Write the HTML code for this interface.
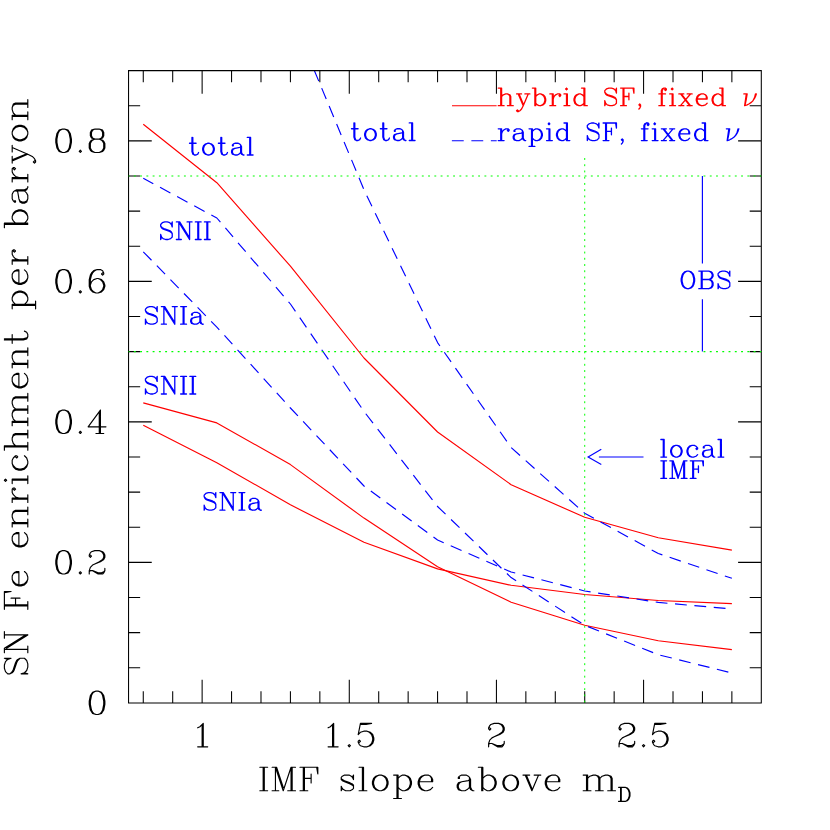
<!DOCTYPE html>
<html><head><meta charset="utf-8"><title>SN Fe enrichment</title>
<style>html,body{margin:0;padding:0;background:#fff;font-family:"Liberation Sans",sans-serif}svg{display:block}</style></head>
<body>
<svg width="830" height="830" viewBox="0 0 830 830">
<rect width="830" height="830" fill="#fff"/>
<defs><clipPath id="c"><rect x="128.55" y="70.6" width="632.75" height="632.3"/></clipPath></defs>
<g fill="none" stroke-width="1.15" stroke-linejoin="round" clip-path="url(#c)">
<g stroke="#ff0000">
<path d="M143.27 124.3L216.84 182.7L290.42 266.2L363.99 358L437.57 432L511.14 484.7L584.72 517.3L658.29 537.8L731.87 550.1"/>
<path d="M143.27 402.9L216.84 422.9L290.42 464.6L363.99 518.1L437.57 566.8L511.14 602.2L584.72 625.3L658.29 640.7L731.87 649.6"/>
<path d="M143.27 425.3L216.84 462.7L290.42 504.8L363.99 542.2L437.57 568.9L511.14 585.3L584.72 594.5L658.29 600.5L731.87 603.6"/>
</g>
<g stroke="#0000ff" stroke-dasharray="11.8 7.63">
<path d="M143.27 178.3L216.84 218L290.42 304L363.99 411.4L437.57 506.5L511.14 577.6L584.72 625.3L658.29 654.7L731.87 673" stroke-dashoffset="0.4"/>
<path d="M143.27 251.8L216.84 327.1L290.42 408L363.99 486L437.57 540L511.14 572L584.72 591L658.29 602.4L731.87 609" stroke-dashoffset="0"/>
<path d="M143.27 -273L216.84 -160L290.42 13L363.99 189.8L437.57 342.6L511.14 447.6L584.72 513.3L658.29 553.5L731.87 578.3" stroke-dashoffset="3.8"/>
</g></g>
<path d="M128.55 70.6H761.3V702.9H128.55ZM143.27 702.9v-11.6M143.27 70.6v11.6M172.7 702.9v-11.6M172.7 70.6v11.6M202.13 702.9v-23.2M202.13 70.6v23.2M231.56 702.9v-11.6M231.56 70.6v11.6M260.99 702.9v-11.6M260.99 70.6v11.6M290.42 702.9v-11.6M290.42 70.6v11.6M319.85 702.9v-11.6M319.85 70.6v11.6M349.28 702.9v-23.2M349.28 70.6v23.2M378.71 702.9v-11.6M378.71 70.6v11.6M408.14 702.9v-11.6M408.14 70.6v11.6M437.57 702.9v-11.6M437.57 70.6v11.6M467 702.9v-11.6M467 70.6v11.6M496.43 702.9v-23.2M496.43 70.6v23.2M525.86 702.9v-11.6M525.86 70.6v11.6M555.29 702.9v-11.6M555.29 70.6v11.6M584.72 702.9v-11.6M584.72 70.6v11.6M614.15 702.9v-11.6M614.15 70.6v11.6M643.58 702.9v-23.2M643.58 70.6v23.2M673.01 702.9v-11.6M673.01 70.6v11.6M702.44 702.9v-11.6M702.44 70.6v11.6M731.87 702.9v-11.6M731.87 70.6v11.6M761.3 702.9v-11.6M761.3 70.6v11.6M128.55 667.77h11.6M761.3 667.77h-11.6M128.55 632.64h11.6M761.3 632.64h-11.6M128.55 597.52h11.6M761.3 597.52h-11.6M128.55 562.39h23.2M761.3 562.39h-23.2M128.55 527.26h11.6M761.3 527.26h-11.6M128.55 492.13h11.6M761.3 492.13h-11.6M128.55 457.01h11.6M761.3 457.01h-11.6M128.55 421.88h23.2M761.3 421.88h-23.2M128.55 386.75h11.6M761.3 386.75h-11.6M128.55 351.62h11.6M761.3 351.62h-11.6M128.55 316.49h11.6M761.3 316.49h-11.6M128.55 281.37h23.2M761.3 281.37h-23.2M128.55 246.24h11.6M761.3 246.24h-11.6M128.55 211.11h11.6M761.3 211.11h-11.6M128.55 175.98h11.6M761.3 175.98h-11.6M128.55 140.86h23.2M761.3 140.86h-23.2M128.55 105.73h11.6M761.3 105.73h-11.6" fill="none" stroke="#000" stroke-width="1.05" stroke-linecap="butt" stroke-linejoin="miter"/>
<g stroke="#00ff00" stroke-width="1.15" fill="none" stroke-linecap="butt">
<path d="M128.55 175.98H761.3" stroke-dasharray="1.9 4.36" stroke-dashoffset="0.95"/>
<path d="M128.55 351.62H761.3" stroke-dasharray="1.9 4.36" stroke-dashoffset="0.95"/>
<path d="M584.72 158.03V702.9" stroke-dasharray="1.9 4.337" stroke-width="1.0"/>
</g>
<path d="M62.48 129.05L59.14 130.16L56.91 133.51L55.8 139.08L55.8 142.43L56.91 148L59.14 151.35L62.48 152.46L64.72 152.46L68.06 151.35L70.29 148L71.41 142.43L71.41 139.08L70.29 133.51L68.06 130.16L64.72 129.05L62.48 129.05M62.48 129.05L60.26 130.16L59.14 131.28L58.03 133.51L56.91 139.08L56.91 142.43L58.03 148L59.14 150.23L60.26 151.35L62.48 152.46M64.72 152.46L66.95 151.35L68.06 150.23L69.18 148L70.29 142.43L70.29 139.08L69.18 133.51L68.06 131.28L66.95 130.16L64.72 129.05M80.33 150.23L79.21 151.35L80.33 152.46L81.44 151.35L80.33 150.23M94.82 129.05L91.47 130.16L90.36 132.39L90.36 135.74L91.47 137.97L94.82 139.08L99.28 139.08L102.62 137.97L103.74 135.74L103.74 132.39L102.62 130.16L99.28 129.05L94.82 129.05M94.82 129.05L92.59 130.16L91.47 132.39L91.47 135.74L92.59 137.97L94.82 139.08M99.28 139.08L101.51 137.97L102.62 135.74L102.62 132.39L101.51 130.16L99.28 129.05M94.82 139.08L91.47 140.2L90.36 141.31L89.25 143.54L89.25 148L90.36 150.23L91.47 151.35L94.82 152.46L99.28 152.46L102.62 151.35L103.74 150.23L104.86 148L104.86 143.54L103.74 141.31L102.62 140.2L99.28 139.08M94.82 139.08L92.59 140.2L91.47 141.31L90.36 143.54L90.36 148L91.47 150.23L92.59 151.35L94.82 152.46M99.28 152.46L101.51 151.35L102.62 150.23L103.74 148L103.74 143.54L102.62 141.31L101.51 140.2L99.28 139.08M62.48 269.56L59.14 270.67L56.91 274.02L55.8 279.59L55.8 282.94L56.91 288.51L59.14 291.86L62.48 292.97L64.72 292.97L68.06 291.86L70.29 288.51L71.41 282.94L71.41 279.59L70.29 274.02L68.06 270.67L64.72 269.56L62.48 269.56M62.48 269.56L60.26 270.67L59.14 271.79L58.03 274.02L56.91 279.59L56.91 282.94L58.03 288.51L59.14 290.74L60.26 291.86L62.48 292.97M64.72 292.97L66.95 291.86L68.06 290.74L69.18 288.51L70.29 282.94L70.29 279.59L69.18 274.02L68.06 271.79L66.95 270.67L64.72 269.56M80.33 290.74L79.21 291.86L80.33 292.97L81.44 291.86L80.33 290.74M102.62 272.9L101.51 274.02L102.62 275.13L103.74 274.02L103.74 272.9L102.62 270.67L100.4 269.56L97.05 269.56L93.71 270.67L91.47 272.9L90.36 275.13L89.25 279.59L89.25 286.28L90.36 289.63L92.59 291.86L95.94 292.97L98.16 292.97L101.51 291.86L103.74 289.63L104.86 286.28L104.86 285.17L103.74 281.82L101.51 279.59L98.16 278.48L97.05 278.48L93.71 279.59L91.47 281.82L90.36 285.17M97.05 269.56L94.82 270.67L92.59 272.9L91.47 275.13L90.36 279.59L90.36 286.28L91.47 289.63L93.71 291.86L95.94 292.97M98.16 292.97L100.4 291.86L102.62 289.63L103.74 286.28L103.74 285.17L102.62 281.82L100.4 279.59L98.16 278.48M62.48 410.07L59.14 411.19L56.91 414.53L55.8 420.11L55.8 423.45L56.91 429.03L59.14 432.37L62.48 433.49L64.72 433.49L68.06 432.37L70.29 429.03L71.41 423.45L71.41 420.11L70.29 414.53L68.06 411.19L64.72 410.07L62.48 410.07M62.48 410.07L60.26 411.19L59.14 412.3L58.03 414.53L56.91 420.11L56.91 423.45L58.03 429.03L59.14 431.26L60.26 432.37L62.48 433.49M64.72 433.49L66.95 432.37L68.06 431.26L69.18 429.03L70.29 423.45L70.29 420.11L69.18 414.53L68.06 412.3L66.95 411.19L64.72 410.07M80.33 431.26L79.21 432.37L80.33 433.49L81.44 432.37L80.33 431.26M99.28 412.3L99.28 433.49M100.4 410.07L100.4 433.49M100.4 410.07L88.13 426.8L105.97 426.8M95.94 433.49L103.74 433.49M62.48 550.58L59.14 551.7L56.91 555.04L55.8 560.62L55.8 563.96L56.91 569.54L59.14 572.88L62.48 574L64.72 574L68.06 572.88L70.29 569.54L71.41 563.96L71.41 560.62L70.29 555.04L68.06 551.7L64.72 550.58L62.48 550.58M62.48 550.58L60.26 551.7L59.14 552.81L58.03 555.04L56.91 560.62L56.91 563.96L58.03 569.54L59.14 571.77L60.26 572.88L62.48 574M64.72 574L66.95 572.88L68.06 571.77L69.18 569.54L70.29 563.96L70.29 560.62L69.18 555.04L68.06 552.81L66.95 551.7L64.72 550.58M80.33 571.77L79.21 572.88L80.33 574L81.44 572.88L80.33 571.77M90.36 555.04L91.47 556.16L90.36 557.27L89.25 556.16L89.25 555.04L90.36 552.81L91.47 551.7L94.82 550.58L99.28 550.58L102.62 551.7L103.74 552.81L104.86 555.04L104.86 557.27L103.74 559.5L100.4 561.73L94.82 563.96L92.59 565.08L90.36 567.31L89.25 570.65L89.25 574M99.28 550.58L101.51 551.7L102.62 552.81L103.74 555.04L103.74 557.27L102.62 559.5L99.28 561.73L94.82 563.96M89.25 571.77L90.36 570.65L92.59 570.65L98.16 572.88L101.51 572.88L103.74 571.77L104.86 570.65M92.59 570.65L98.16 574L102.62 574L103.74 572.88L104.86 570.65L104.86 568.42M95.94 691.09L92.59 692.21L90.36 695.55L89.25 701.13L89.25 704.47L90.36 710.05L92.59 713.39L95.94 714.51L98.17 714.51L101.51 713.39L103.74 710.05L104.86 704.47L104.86 701.13L103.74 695.55L101.51 692.21L98.17 691.09L95.94 691.09M95.94 691.09L93.71 692.21L92.59 693.32L91.48 695.55L90.36 701.13L90.36 704.47L91.48 710.05L92.59 712.28L93.71 713.39L95.94 714.51M98.17 714.51L100.4 713.39L101.51 712.28L102.62 710.05L103.74 704.47L103.74 701.13L102.62 695.55L101.51 693.32L100.4 692.21L98.17 691.09M197.67 727.84L199.9 726.73L203.24 723.38L203.24 746.8M202.13 724.5L202.13 746.8M197.67 746.8L207.7 746.8M328.09 727.84L330.32 726.73L333.67 723.38L333.67 746.8M332.55 724.5L332.55 746.8M328.09 746.8L338.13 746.8M349.28 744.57L348.16 745.68L349.28 746.8L350.39 745.68L349.28 744.57M360.43 723.38L358.2 734.53M358.2 734.53L360.43 732.3L363.77 731.19L367.12 731.19L370.46 732.3L372.69 734.53L373.81 737.88L373.81 740.11L372.69 743.45L370.46 745.68L367.12 746.8L363.77 746.8L360.43 745.68L359.31 744.57L358.2 742.34L358.2 741.22L359.31 740.11L360.43 741.22L359.31 742.34M367.12 731.19L369.35 732.3L371.58 734.53L372.69 737.88L372.69 740.11L371.58 743.45L369.35 745.68L367.12 746.8M360.43 723.38L371.58 723.38M360.43 724.5L366 724.5L371.58 723.38M489.74 727.84L490.85 728.96L489.74 730.07L488.62 728.96L488.62 727.84L489.74 725.62L490.85 724.5L494.2 723.38L498.66 723.38L502 724.5L503.12 725.62L504.23 727.84L504.23 730.07L503.12 732.3L499.77 734.53L494.2 736.76L491.97 737.88L489.74 740.11L488.62 743.45L488.62 746.8M498.66 723.38L500.89 724.5L502 725.62L503.12 727.84L503.12 730.07L502 732.3L498.66 734.53L494.2 736.76M488.62 744.57L489.74 743.45L491.97 743.45L497.54 745.68L500.89 745.68L503.12 744.57L504.23 743.45M491.97 743.45L497.54 746.8L502 746.8L503.12 745.68L504.23 743.45L504.23 741.22M620.16 727.84L621.28 728.96L620.16 730.07L619.05 728.96L619.05 727.84L620.16 725.62L621.28 724.5L624.62 723.38L629.08 723.38L632.43 724.5L633.54 725.62L634.66 727.84L634.66 730.07L633.54 732.3L630.2 734.53L624.62 736.76L622.39 737.88L620.16 740.11L619.05 743.45L619.05 746.8M629.08 723.38L631.31 724.5L632.43 725.62L633.54 727.84L633.54 730.07L632.43 732.3L629.08 734.53L624.62 736.76M619.05 744.57L620.16 743.45L622.39 743.45L627.97 745.68L631.31 745.68L633.54 744.57L634.66 743.45M622.39 743.45L627.97 746.8L632.43 746.8L633.54 745.68L634.66 743.45L634.66 741.22M643.58 744.57L642.46 745.68L643.58 746.8L644.69 745.68L643.58 744.57M654.73 723.38L652.5 734.53M652.5 734.53L654.73 732.3L658.07 731.19L661.42 731.19L664.76 732.3L666.99 734.53L668.11 737.88L668.11 740.11L666.99 743.45L664.76 745.68L661.42 746.8L658.07 746.8L654.73 745.68L653.61 744.57L652.5 742.34L652.5 741.22L653.61 740.11L654.73 741.22L653.61 742.34M661.42 731.19L663.65 732.3L665.88 734.53L666.99 737.88L666.99 740.11L665.88 743.45L663.65 745.68L661.42 746.8M654.73 723.38L665.88 723.38M654.73 724.5L660.3 724.5L665.88 723.38M263.18 767.29L263.18 790.7M264.29 767.29L264.29 790.7M259.83 767.29L267.64 767.29M259.83 790.7L267.64 790.7M275.44 767.29L275.44 790.7M276.56 767.29L283.25 787.36M275.44 767.29L283.25 790.7M291.05 767.29L283.25 790.7M291.05 767.29L291.05 790.7M292.17 767.29L292.17 790.7M272.1 767.29L276.56 767.29M291.05 767.29L295.51 767.29M272.1 790.7L278.79 790.7M287.71 790.7L295.51 790.7M303.31 767.29L303.31 790.7M304.43 767.29L304.43 790.7M311.12 773.98L311.12 782.9M299.97 767.29L317.81 767.29L317.81 773.98L316.7 767.29M304.43 778.44L311.12 778.44M299.97 790.7L307.78 790.7M352.38 777.32L353.49 775.09L353.49 779.55L352.38 777.32L351.26 776.21L349.03 775.09L344.57 775.09L342.34 776.21L341.23 777.32L341.23 779.55L342.34 780.67L344.57 781.78L350.15 784.01L352.38 785.12L353.49 786.24M341.23 778.44L342.34 779.55L344.57 780.67L350.15 782.9L352.38 784.01L353.49 785.12L353.49 788.47L352.38 789.59L350.15 790.7L345.69 790.7L343.46 789.59L342.34 788.47L341.23 786.24L341.23 790.7L342.34 788.47M362.41 767.29L362.41 790.7M363.53 767.29L363.53 790.7M359.07 767.29L363.53 767.29M359.07 790.7L366.87 790.7M379.13 775.09L375.79 776.21L373.56 778.44L372.45 781.78L372.45 784.01L373.56 787.36L375.79 789.59L379.13 790.7L381.37 790.7L384.71 789.59L386.94 787.36L388.06 784.01L388.06 781.78L386.94 778.44L384.71 776.21L381.37 775.09L379.13 775.09M379.13 775.09L376.91 776.21L374.68 778.44L373.56 781.78L373.56 784.01L374.68 787.36L376.91 789.59L379.13 790.7M381.37 790.7L383.6 789.59L385.83 787.36L386.94 784.01L386.94 781.78L385.83 778.44L383.6 776.21L381.37 775.09M396.98 775.09L396.98 798.5M398.09 775.09L398.09 798.5M398.09 778.44L400.32 776.21L402.55 775.09L404.78 775.09L408.12 776.21L410.36 778.44L411.47 781.78L411.47 784.01L410.36 787.36L408.12 789.59L404.78 790.7L402.55 790.7L400.32 789.59L398.09 787.36M404.78 775.09L407.01 776.21L409.24 778.44L410.36 781.78L410.36 784.01L409.24 787.36L407.01 789.59L404.78 790.7M393.63 775.09L398.09 775.09M393.63 798.5L401.44 798.5M419.28 781.78L432.66 781.78L432.66 779.55L431.54 777.32L430.43 776.21L428.2 775.09L424.85 775.09L421.5 776.21L419.28 778.44L418.16 781.78L418.16 784.01L419.28 787.36L421.5 789.59L424.85 790.7L427.08 790.7L430.43 789.59L432.66 787.36M431.54 781.78L431.54 778.44L430.43 776.21M424.85 775.09L422.62 776.21L420.39 778.44L419.28 781.78L419.28 784.01L420.39 787.36L422.62 789.59L424.85 790.7M459.42 777.32L459.42 778.44L458.3 778.44L458.3 777.32L459.42 776.21L461.64 775.09L466.11 775.09L468.34 776.21L469.45 777.32L470.57 779.55L470.57 787.36L471.68 789.59L472.8 790.7M469.45 777.32L469.45 787.36L470.57 789.59L472.8 790.7L473.91 790.7M469.45 779.55L468.34 780.67L461.64 781.78L458.3 782.9L457.19 785.12L457.19 787.36L458.3 789.59L461.64 790.7L464.99 790.7L467.22 789.59L469.45 787.36M461.64 781.78L459.42 782.9L458.3 785.12L458.3 787.36L459.42 789.59L461.64 790.7M481.72 767.29L481.72 790.7M482.83 767.29L482.83 790.7M482.83 778.44L485.06 776.21L487.29 775.09L489.52 775.09L492.87 776.21L495.1 778.44L496.21 781.78L496.21 784.01L495.1 787.36L492.87 789.59L489.52 790.7L487.29 790.7L485.06 789.59L482.83 787.36M489.52 775.09L491.75 776.21L493.98 778.44L495.1 781.78L495.1 784.01L493.98 787.36L491.75 789.59L489.52 790.7M478.37 767.29L482.83 767.29M509.59 775.09L506.25 776.21L504.01 778.44L502.9 781.78L502.9 784.01L504.01 787.36L506.25 789.59L509.59 790.7L511.82 790.7L515.16 789.59L517.39 787.36L518.51 784.01L518.51 781.78L517.39 778.44L515.16 776.21L511.82 775.09L509.59 775.09M509.59 775.09L507.36 776.21L505.13 778.44L504.01 781.78L504.01 784.01L505.13 787.36L507.36 789.59L509.59 790.7M511.82 790.7L514.05 789.59L516.28 787.36L517.39 784.01L517.39 781.78L516.28 778.44L514.05 776.21L511.82 775.09M525.2 775.09L531.89 790.7M526.32 775.09L531.89 788.47M538.58 775.09L531.89 790.7M522.97 775.09L529.66 775.09M534.12 775.09L540.81 775.09M546.38 781.78L559.77 781.78L559.77 779.55L558.65 777.32L557.54 776.21L555.31 775.09L551.96 775.09L548.62 776.21L546.38 778.44L545.27 781.78L545.27 784.01L546.38 787.36L548.62 789.59L551.96 790.7L554.19 790.7L557.54 789.59L559.77 787.36M558.65 781.78L558.65 778.44L557.54 776.21M551.96 775.09L549.73 776.21L547.5 778.44L546.38 781.78L546.38 784.01L547.5 787.36L549.73 789.59L551.96 790.7M586.53 775.09L586.53 790.7M587.64 775.09L587.64 790.7M587.64 778.44L589.87 776.21L593.22 775.09L595.44 775.09L598.79 776.21L599.9 778.44L599.9 790.7M595.44 775.09L597.67 776.21L598.79 778.44L598.79 790.7M599.9 778.44L602.13 776.21L605.48 775.09L607.71 775.09L611.06 776.21L612.17 778.44L612.17 790.7M607.71 775.09L609.94 776.21L611.06 778.44L611.06 790.7M583.18 775.09L587.64 775.09M583.18 790.7L590.99 790.7M595.44 790.7L603.25 790.7M607.71 790.7L615.52 790.7M620.59 787.35L620.59 801.4M621.26 787.35L621.26 801.4M618.58 787.35L625.27 787.35L627.28 788.02L628.62 789.36L629.29 790.7L629.96 792.7L629.96 796.05L629.29 798.06L628.62 799.39L627.28 800.73L625.27 801.4L618.58 801.4M625.27 787.35L626.61 788.02L627.95 789.36L628.62 790.7L629.29 792.7L629.29 796.05L628.62 798.06L627.95 799.39L626.61 800.73L625.27 801.4M7.73 659.4L4.39 658.28L11.07 658.28L7.73 659.4L5.5 661.62L4.39 664.96L4.39 668.3L5.5 671.64L7.73 673.86L9.96 673.86L12.19 672.75L13.31 671.64L14.42 669.41L16.65 662.73L17.77 660.51L20 658.28M9.96 673.86L12.19 671.64L13.31 669.41L15.54 662.73L16.65 660.51L17.77 659.4L20 658.28L24.46 658.28L26.69 660.51L27.8 663.85L27.8 667.19L26.69 670.52L24.46 672.75L21.11 673.86L27.8 673.86L24.46 672.75M4.39 649.38L27.8 649.38M4.39 648.27L25.57 634.91M6.62 648.27L27.8 634.91M4.39 634.91L27.8 634.91M4.39 652.72L4.39 648.27M4.39 638.25L4.39 631.58M27.8 652.72L27.8 646.04M4.39 605.98L27.8 605.98M4.39 604.87L27.8 604.87M11.07 598.19L20 598.19M4.39 609.32L4.39 591.52L11.07 591.52L4.39 592.63M15.54 604.87L15.54 598.19M27.8 609.32L27.8 601.53M18.88 584.84L18.88 571.49L16.65 571.49L14.42 572.6L13.31 573.71L12.19 575.94L12.19 579.28L13.31 582.61L15.54 584.84L18.88 585.95L21.11 585.95L24.46 584.84L26.69 582.61L27.8 579.28L27.8 577.05L26.69 573.71L24.46 571.49M18.88 572.6L15.54 572.6L13.31 573.71M12.19 579.28L13.31 581.5L15.54 583.73L18.88 584.84L21.11 584.84L24.46 583.73L26.69 581.5L27.8 579.28M18.88 545.89L18.88 532.54L16.65 532.54L14.42 533.65L13.31 534.77L12.19 536.99L12.19 540.33L13.31 543.67L15.54 545.89L18.88 547.01L21.11 547.01L24.46 545.89L26.69 543.67L27.8 540.33L27.8 538.1L26.69 534.77L24.46 532.54M18.88 533.65L15.54 533.65L13.31 534.77M12.19 540.33L13.31 542.55L15.54 544.78L18.88 545.89L21.11 545.89L24.46 544.78L26.69 542.55L27.8 540.33M12.19 523.64L27.8 523.64M12.19 522.52L27.8 522.52M15.54 522.52L13.31 520.3L12.19 516.96L12.19 514.74L13.31 511.4L15.54 510.28L27.8 510.28M12.19 514.74L13.31 512.51L15.54 511.4L27.8 511.4M12.19 526.98L12.19 522.52M27.8 526.98L27.8 519.19M27.8 514.74L27.8 506.95M12.19 499.16L27.8 499.16M12.19 498.04L27.8 498.04M18.88 498.04L15.54 496.93L13.31 494.71L12.19 492.48L12.19 489.14L13.31 488.03L14.42 488.03L15.54 489.14L14.42 490.25L13.31 489.14M12.19 502.5L12.19 498.04M27.8 502.5L27.8 494.71M4.39 480.24L5.5 481.35L6.62 480.24L5.5 479.13L4.39 480.24M12.19 480.24L27.8 480.24M12.19 479.13L27.8 479.13M12.19 483.58L12.19 479.13M27.8 483.58L27.8 475.79M15.54 456.87L16.65 457.98L17.77 456.87L16.65 455.76L15.54 455.76L13.31 457.98L12.19 460.21L12.19 463.55L13.31 466.89L15.54 469.11L18.88 470.22L21.11 470.22L24.46 469.11L26.69 466.89L27.8 463.55L27.8 461.32L26.69 457.98L24.46 455.76M12.19 463.55L13.31 465.77L15.54 468L18.88 469.11L21.11 469.11L24.46 468L26.69 465.77L27.8 463.55M4.39 446.86L27.8 446.86M4.39 445.74L27.8 445.74M15.54 445.74L13.31 443.52L12.19 440.18L12.19 437.95L13.31 434.62L15.54 433.5L27.8 433.5M12.19 437.95L13.31 435.73L15.54 434.62L27.8 434.62M4.39 450.19L4.39 445.74M27.8 450.19L27.8 442.41M27.8 437.95L27.8 430.17M12.19 422.38L27.8 422.38M12.19 421.26L27.8 421.26M15.54 421.26L13.31 419.04L12.19 415.7L12.19 413.47L13.31 410.14L15.54 409.02L27.8 409.02M12.19 413.47L13.31 411.25L15.54 410.14L27.8 410.14M15.54 409.02L13.31 406.8L12.19 403.46L12.19 401.23L13.31 397.89L15.54 396.78L27.8 396.78M12.19 401.23L13.31 399.01L15.54 397.89L27.8 397.89M12.19 425.71L12.19 421.26M27.8 425.71L27.8 417.92M27.8 413.47L27.8 405.68M27.8 401.23L27.8 393.44M18.88 386.77L18.88 373.41L16.65 373.41L14.42 374.53L13.31 375.64L12.19 377.86L12.19 381.2L13.31 384.54L15.54 386.77L18.88 387.88L21.11 387.88L24.46 386.77L26.69 384.54L27.8 381.2L27.8 378.98L26.69 375.64L24.46 373.41M18.88 374.53L15.54 374.53L13.31 375.64M12.19 381.2L13.31 383.43L15.54 385.65L18.88 386.77L21.11 386.77L24.46 385.65L26.69 383.43L27.8 381.2M12.19 364.51L27.8 364.51M12.19 363.4L27.8 363.4M15.54 363.4L13.31 361.17L12.19 357.84L12.19 355.61L13.31 352.27L15.54 351.16L27.8 351.16M12.19 355.61L13.31 353.38L15.54 352.27L27.8 352.27M12.19 367.85L12.19 363.4M27.8 367.85L27.8 360.06M27.8 355.61L27.8 347.82M4.39 340.03L23.34 340.03L26.69 338.92L27.8 336.69L27.8 334.47L26.69 332.24L24.46 331.13M4.39 338.92L23.34 338.92L26.69 337.81L27.8 336.69M12.19 343.37L12.19 334.47M12.19 305.53L35.61 305.53M12.19 304.42L35.61 304.42M15.54 304.42L13.31 302.2L12.19 299.97L12.19 297.75L13.31 294.41L15.54 292.18L18.88 291.07L21.11 291.07L24.46 292.18L26.69 294.41L27.8 297.75L27.8 299.97L26.69 302.2L24.46 304.42M12.19 297.75L13.31 295.52L15.54 293.29L18.88 292.18L21.11 292.18L24.46 293.29L26.69 295.52L27.8 297.75M12.19 308.87L12.19 304.42M35.61 308.87L35.61 301.08M18.88 283.28L18.88 269.93L16.65 269.93L14.42 271.04L13.31 272.15L12.19 274.38L12.19 277.72L13.31 281.05L15.54 283.28L18.88 284.39L21.11 284.39L24.46 283.28L26.69 281.05L27.8 277.72L27.8 275.49L26.69 272.15L24.46 269.93M18.88 271.04L15.54 271.04L13.31 272.15M12.19 277.72L13.31 279.94L15.54 282.17L18.88 283.28L21.11 283.28L24.46 282.17L26.69 279.94L27.8 277.72M12.19 261.02L27.8 261.02M12.19 259.91L27.8 259.91M18.88 259.91L15.54 258.8L13.31 256.57L12.19 254.35L12.19 251.01L13.31 249.9L14.42 249.9L15.54 251.01L14.42 252.12L13.31 251.01M12.19 264.36L12.19 259.91M27.8 264.36L27.8 256.57M4.39 224.3L27.8 224.3M4.39 223.19L27.8 223.19M15.54 223.19L13.31 220.96L12.19 218.74L12.19 216.51L13.31 213.17L15.54 210.95L18.88 209.84L21.11 209.84L24.46 210.95L26.69 213.17L27.8 216.51L27.8 218.74L26.69 220.96L24.46 223.19M12.19 216.51L13.31 214.29L15.54 212.06L18.88 210.95L21.11 210.95L24.46 212.06L26.69 214.29L27.8 216.51M4.39 227.64L4.39 223.19M14.42 200.93L15.54 200.93L15.54 202.05L14.42 202.05L13.31 200.93L12.19 198.71L12.19 194.26L13.31 192.03L14.42 190.92L16.65 189.81L24.46 189.81L26.69 188.69L27.8 187.58M14.42 190.92L24.46 190.92L26.69 189.81L27.8 187.58L27.8 186.47M16.65 190.92L17.77 192.03L18.88 198.71L20 202.05L22.23 203.16L24.46 203.16L26.69 202.05L27.8 198.71L27.8 195.37L26.69 193.15L24.46 190.92M18.88 198.71L20 200.93L22.23 202.05L24.46 202.05L26.69 200.93L27.8 198.71M12.19 178.68L27.8 178.68M12.19 177.57L27.8 177.57M18.88 177.57L15.54 176.45L13.31 174.23L12.19 172L12.19 168.66L13.31 167.55L14.42 167.55L15.54 168.66L14.42 169.78L13.31 168.66M12.19 182.02L12.19 177.57M27.8 182.02L27.8 174.23M12.19 160.87L27.8 154.2M12.19 159.76L25.57 154.2M12.19 147.52L27.8 154.2L32.26 156.42L34.49 158.65L35.61 160.87L35.61 161.99L34.49 163.1L33.38 161.99L34.49 160.87M12.19 163.1L12.19 156.42M12.19 151.97L12.19 145.3M12.19 134.17L13.31 137.51L15.54 139.73L18.88 140.84L21.11 140.84L24.46 139.73L26.69 137.51L27.8 134.17L27.8 131.94L26.69 128.6L24.46 126.38L21.11 125.27L18.88 125.27L15.54 126.38L13.31 128.6L12.19 131.94L12.19 134.17M12.19 134.17L13.31 136.39L15.54 138.62L18.88 139.73L21.11 139.73L24.46 138.62L26.69 136.39L27.8 134.17M27.8 131.94L26.69 129.72L24.46 127.49L21.11 126.38L18.88 126.38L15.54 127.49L13.31 129.72L12.19 131.94M12.19 116.36L27.8 116.36M12.19 115.25L27.8 115.25M15.54 115.25L13.31 113.03L12.19 109.69L12.19 107.46L13.31 104.12L15.54 103.01L27.8 103.01M12.19 107.46L13.31 105.24L15.54 104.12L27.8 104.12M12.19 119.7L12.19 115.25M27.8 119.7L27.8 111.91M27.8 107.46L27.8 99.67" fill="none" stroke="#000" stroke-width="1.15" stroke-linecap="round" stroke-linejoin="round"/>
<path d="M353.95 122.9L353.95 137.15L354.78 139.66L356.43 140.5L358.08 140.5L359.73 139.66L360.55 137.99M354.78 122.9L354.78 137.15L355.6 139.66L356.43 140.5M351.47 128.77L358.08 128.77M369.63 128.77L367.16 129.61L365.51 131.28L364.68 133.8L364.68 135.47L365.51 137.99L367.16 139.66L369.63 140.5L371.29 140.5L373.76 139.66L375.41 137.99L376.24 135.47L376.24 133.8L375.41 131.28L373.76 129.61L371.29 128.77L369.63 128.77M369.63 128.77L367.98 129.61L366.33 131.28L365.51 133.8L365.51 135.47L366.33 137.99L367.98 139.66L369.63 140.5M371.29 140.5L372.94 139.66L374.59 137.99L375.41 135.47L375.41 133.8L374.59 131.28L372.94 129.61L371.29 128.77M382.84 122.9L382.84 137.15L383.67 139.66L385.32 140.5L386.97 140.5L388.62 139.66L389.44 137.99M383.67 122.9L383.67 137.15L384.49 139.66L385.32 140.5M380.36 128.77L386.97 128.77M395.22 130.44L395.22 131.28L394.4 131.28L394.4 130.44L395.22 129.61L396.87 128.77L400.18 128.77L401.83 129.61L402.65 130.44L403.48 132.12L403.48 137.99L404.3 139.66L405.13 140.5M402.65 130.44L402.65 137.99L403.48 139.66L405.13 140.5L405.95 140.5M402.65 132.12L401.83 132.96L396.87 133.8L394.4 134.63L393.57 136.31L393.57 137.99L394.4 139.66L396.87 140.5L399.35 140.5L401 139.66L402.65 137.99M396.87 133.8L395.22 134.63L394.4 136.31L394.4 137.99L395.22 139.66L396.87 140.5M411.73 122.9L411.73 140.5M412.56 122.9L412.56 140.5M409.25 122.9L412.56 122.9M409.25 140.5L415.03 140.5M191.98 137.4L191.98 151.65L192.8 154.16L194.45 155L196.1 155L197.76 154.16L198.58 152.49M192.8 137.4L192.8 151.65L193.63 154.16L194.45 155M189.5 143.27L196.1 143.27M207.66 143.27L205.18 144.11L203.53 145.78L202.71 148.3L202.71 149.97L203.53 152.49L205.18 154.16L207.66 155L209.31 155L211.79 154.16L213.44 152.49L214.26 149.97L214.26 148.3L213.44 145.78L211.79 144.11L209.31 143.27L207.66 143.27M207.66 143.27L206.01 144.11L204.36 145.78L203.53 148.3L203.53 149.97L204.36 152.49L206.01 154.16L207.66 155M209.31 155L210.96 154.16L212.61 152.49L213.44 149.97L213.44 148.3L212.61 145.78L210.96 144.11L209.31 143.27M220.87 137.4L220.87 151.65L221.69 154.16L223.34 155L224.99 155L226.65 154.16L227.47 152.49M221.69 137.4L221.69 151.65L222.52 154.16L223.34 155M218.39 143.27L224.99 143.27M233.25 144.94L233.25 145.78L232.42 145.78L232.42 144.94L233.25 144.11L234.9 143.27L238.2 143.27L239.85 144.11L240.68 144.94L241.5 146.62L241.5 152.49L242.33 154.16L243.15 155M240.68 144.94L240.68 152.49L241.5 154.16L243.15 155L243.98 155M240.68 146.62L239.85 147.46L234.9 148.3L232.42 149.13L231.6 150.81L231.6 152.49L232.42 154.16L234.9 155L237.38 155L239.03 154.16L240.68 152.49M234.9 148.3L233.25 149.13L232.42 150.81L232.42 152.49L233.25 154.16L234.9 155M249.76 137.4L249.76 155M250.58 137.4L250.58 155M247.28 137.4L250.58 137.4M247.28 155L253.06 155M156.34 378.92L157.18 376.4L157.18 381.43L156.34 378.92L154.67 377.24L152.15 376.4L149.64 376.4L147.13 377.24L145.45 378.92L145.45 380.59L146.29 382.27L147.13 383.11L148.8 383.94L153.83 385.62L155.51 386.46L157.18 388.13M145.45 380.59L147.13 382.27L148.8 383.11L153.83 384.78L155.51 385.62L156.34 386.46L157.18 388.13L157.18 391.49L155.51 393.16L152.99 394L150.48 394L147.96 393.16L146.29 391.49L145.45 388.97L145.45 394L146.29 391.49M163.89 376.4L163.89 394M164.72 376.4L174.78 392.32M164.72 378.08L174.78 394M174.78 376.4L174.78 394M161.37 376.4L164.72 376.4M172.27 376.4L177.29 376.4M161.37 394L166.4 394M183.16 376.4L183.16 394M184 376.4L184 394M180.65 376.4L186.51 376.4M180.65 394L186.51 394M192.38 376.4L192.38 394M193.22 376.4L193.22 394M189.86 376.4L195.73 376.4M189.86 394L195.73 394M156.34 309.12L157.18 306.6L157.18 311.63L156.34 309.12L154.67 307.44L152.15 306.6L149.64 306.6L147.13 307.44L145.45 309.12L145.45 310.79L146.29 312.47L147.13 313.31L148.8 314.14L153.83 315.82L155.51 316.66L157.18 318.33M145.45 310.79L147.13 312.47L148.8 313.31L153.83 314.98L155.51 315.82L156.34 316.66L157.18 318.33L157.18 321.69L155.51 323.36L152.99 324.2L150.48 324.2L147.96 323.36L146.29 321.69L145.45 319.17L145.45 324.2L146.29 321.69M163.89 306.6L163.89 324.2M164.72 306.6L174.78 322.52M164.72 308.28L174.78 324.2M174.78 306.6L174.78 324.2M161.37 306.6L164.72 306.6M172.27 306.6L177.29 306.6M161.37 324.2L166.4 324.2M183.16 306.6L183.16 324.2M184 306.6L184 324.2M180.65 306.6L186.51 306.6M180.65 324.2L186.51 324.2M192.38 314.14L192.38 314.98L191.54 314.98L191.54 314.14L192.38 313.31L194.05 312.47L197.41 312.47L199.08 313.31L199.92 314.14L200.76 315.82L200.76 321.69L201.6 323.36L202.43 324.2M199.92 314.14L199.92 321.69L200.76 323.36L202.43 324.2L203.27 324.2M199.92 315.82L199.08 316.66L194.05 317.5L191.54 318.33L190.7 320.01L190.7 321.69L191.54 323.36L194.05 324.2L196.57 324.2L198.24 323.36L199.92 321.69M194.05 317.5L192.38 318.33L191.54 320.01L191.54 321.69L192.38 323.36L194.05 324.2M171.41 224.42L172.23 221.9L172.23 226.93L171.41 224.42L169.76 222.74L167.28 221.9L164.8 221.9L162.33 222.74L160.68 224.42L160.68 226.09L161.5 227.77L162.33 228.61L163.98 229.44L168.93 231.12L170.58 231.96L172.23 233.63M160.68 226.09L162.33 227.77L163.98 228.61L168.93 230.28L170.58 231.12L171.41 231.96L172.23 233.63L172.23 236.99L170.58 238.66L168.11 239.5L165.63 239.5L163.15 238.66L161.5 236.99L160.68 234.47L160.68 239.5L161.5 236.99M178.84 221.9L178.84 239.5M179.66 221.9L189.57 237.82M179.66 223.58L189.57 239.5M189.57 221.9L189.57 239.5M176.36 221.9L179.66 221.9M187.09 221.9L192.04 221.9M176.36 239.5L181.31 239.5M197.82 221.9L197.82 239.5M198.65 221.9L198.65 239.5M195.34 221.9L201.12 221.9M195.34 239.5L201.12 239.5M206.9 221.9L206.9 239.5M207.73 221.9L207.73 239.5M204.42 221.9L210.2 221.9M204.42 239.5L210.2 239.5M214.96 495.12L215.79 492.6L215.79 497.63L214.96 495.12L213.3 493.44L210.81 492.6L208.32 492.6L205.83 493.44L204.17 495.12L204.17 496.79L205 498.47L205.83 499.31L207.49 500.14L212.47 501.82L214.13 502.66L215.79 504.33M204.17 496.79L205.83 498.47L207.49 499.31L212.47 500.98L214.13 501.82L214.96 502.66L215.79 504.33L215.79 507.69L214.13 509.36L211.64 510.2L209.15 510.2L206.66 509.36L205 507.69L204.17 505.17L204.17 510.2L205 507.69M222.43 492.6L222.43 510.2M223.26 492.6L233.21 508.52M223.26 494.28L233.21 510.2M233.21 492.6L233.21 510.2M219.94 492.6L223.26 492.6M230.72 492.6L235.7 492.6M219.94 510.2L224.92 510.2M241.51 492.6L241.51 510.2M242.34 492.6L242.34 510.2M239.02 492.6L244.83 492.6M239.02 510.2L244.83 510.2M250.63 500.14L250.63 500.98L249.8 500.98L249.8 500.14L250.63 499.31L252.29 498.47L255.61 498.47L257.27 499.31L258.1 500.14L258.93 501.82L258.93 507.69L259.76 509.36L260.59 510.2M258.1 500.14L258.1 507.69L258.93 509.36L260.59 510.2L261.42 510.2M258.1 501.82L257.27 502.66L252.29 503.5L249.8 504.33L248.97 506.01L248.97 507.69L249.8 509.36L252.29 510.2L254.78 510.2L256.44 509.36L258.1 507.69M252.29 503.5L250.63 504.33L249.8 506.01L249.8 507.69L250.63 509.36L252.29 510.2M687.07 271.1L684.55 271.94L682.88 273.62L682.04 275.29L681.2 278.64L681.2 281.16L682.04 284.51L682.88 286.19L684.55 287.86L687.07 288.7L688.74 288.7L691.26 287.86L692.93 286.19L693.77 284.51L694.61 281.16L694.61 278.64L693.77 275.29L692.93 273.62L691.26 271.94L688.74 271.1L687.07 271.1M687.07 271.1L685.39 271.94L683.71 273.62L682.88 275.29L682.04 278.64L682.04 281.16L682.88 284.51L683.71 286.19L685.39 287.86L687.07 288.7M688.74 288.7L690.42 287.86L692.09 286.19L692.93 284.51L693.77 281.16L693.77 278.64L692.93 275.29L692.09 273.62L690.42 271.94L688.74 271.1M701.31 271.1L701.31 288.7M702.15 271.1L702.15 288.7M698.8 271.1L708.85 271.1L711.37 271.94L712.21 272.78L713.04 274.45L713.04 276.13L712.21 277.81L711.37 278.64L708.85 279.48M708.85 271.1L710.53 271.94L711.37 272.78L712.21 274.45L712.21 276.13L711.37 277.81L710.53 278.64L708.85 279.48M702.15 279.48L708.85 279.48L711.37 280.32L712.21 281.16L713.04 282.83L713.04 285.35L712.21 287.02L711.37 287.86L708.85 288.7L698.8 288.7M708.85 279.48L710.53 280.32L711.37 281.16L712.21 282.83L712.21 285.35L711.37 287.02L710.53 287.86L708.85 288.7M728.97 273.62L729.8 271.1L729.8 276.13L728.97 273.62L727.29 271.94L724.78 271.1L722.26 271.1L719.75 271.94L718.07 273.62L718.07 275.29L718.91 276.97L719.75 277.81L721.42 278.64L726.45 280.32L728.13 281.16L729.8 282.83M718.07 275.29L719.75 276.97L721.42 277.81L726.45 279.48L728.13 280.32L728.97 281.16L729.8 282.83L729.8 286.19L728.13 287.86L725.61 288.7L723.1 288.7L720.59 287.86L718.91 286.19L718.07 283.67L718.07 288.7L718.91 286.19M663.31 439.5L663.31 457.1M664.13 439.5L664.13 457.1M660.86 439.5L664.13 439.5M660.86 457.1L666.58 457.1M675.56 445.37L673.11 446.21L671.48 447.88L670.66 450.4L670.66 452.07L671.48 454.59L673.11 456.26L675.56 457.1L677.2 457.1L679.65 456.26L681.28 454.59L682.1 452.07L682.1 450.4L681.28 447.88L679.65 446.21L677.2 445.37L675.56 445.37M675.56 445.37L673.93 446.21L672.3 447.88L671.48 450.4L671.48 452.07L672.3 454.59L673.93 456.26L675.56 457.1M677.2 457.1L678.83 456.26L680.47 454.59L681.28 452.07L681.28 450.4L680.47 447.88L678.83 446.21L677.2 445.37M696.81 447.88L695.99 448.72L696.81 449.56L697.63 448.72L697.63 447.88L695.99 446.21L694.36 445.37L691.91 445.37L689.45 446.21L687.82 447.88L687 450.4L687 452.07L687.82 454.59L689.45 456.26L691.91 457.1L693.54 457.1L695.99 456.26L697.63 454.59M691.91 445.37L690.27 446.21L688.64 447.88L687.82 450.4L687.82 452.07L688.64 454.59L690.27 456.26L691.91 457.1M704.16 447.04L704.16 447.88L703.34 447.88L703.34 447.04L704.16 446.21L705.8 445.37L709.06 445.37L710.7 446.21L711.52 447.04L712.33 448.72L712.33 454.59L713.15 456.26L713.97 457.1M711.52 447.04L711.52 454.59L712.33 456.26L713.97 457.1L714.78 457.1M711.52 448.72L710.7 449.56L705.8 450.4L703.34 451.23L702.53 452.91L702.53 454.59L703.34 456.26L705.8 457.1L708.25 457.1L709.88 456.26L711.52 454.59M705.8 450.4L704.16 451.23L703.34 452.91L703.34 454.59L704.16 456.26L705.8 457.1M720.5 439.5L720.5 457.1M721.32 439.5L721.32 457.1M718.05 439.5L721.32 439.5M718.05 457.1L723.77 457.1M663.31 460.8L663.31 478.4M664.13 460.8L664.13 478.4M660.86 460.8L666.58 460.8M660.86 478.4L666.58 478.4M672.3 460.8L672.3 478.4M673.11 460.8L678.02 475.89M672.3 460.8L678.02 478.4M683.74 460.8L678.02 478.4M683.74 460.8L683.74 478.4M684.55 460.8L684.55 478.4M669.85 460.8L673.11 460.8M683.74 460.8L687 460.8M669.85 478.4L674.75 478.4M681.28 478.4L687 478.4M692.72 460.8L692.72 478.4M693.54 460.8L693.54 478.4M698.44 465.83L698.44 472.53M690.27 460.8L703.34 460.8L703.34 465.83L702.53 460.8M693.54 469.18L698.44 469.18M690.27 478.4L695.99 478.4M500.76 128.87L500.76 140.6M501.59 128.87L501.59 140.6M501.59 133.9L502.42 131.38L504.09 129.71L505.75 128.87L508.25 128.87L509.08 129.71L509.08 130.54L508.25 131.38L507.42 130.54L508.25 129.71M498.26 128.87L501.59 128.87M498.26 140.6L504.09 140.6M514.91 130.54L514.91 131.38L514.07 131.38L514.07 130.54L514.91 129.71L516.57 128.87L519.9 128.87L521.56 129.71L522.4 130.54L523.23 132.22L523.23 138.09L524.06 139.76L524.89 140.6M522.4 130.54L522.4 138.09L523.23 139.76L524.89 140.6L525.72 140.6M522.4 132.22L521.56 133.06L516.57 133.9L514.07 134.73L513.24 136.41L513.24 138.09L514.07 139.76L516.57 140.6L519.07 140.6L520.73 139.76L522.4 138.09M516.57 133.9L514.91 134.73L514.07 136.41L514.07 138.09L514.91 139.76L516.57 140.6M531.55 128.87L531.55 146.47M532.38 128.87L532.38 146.47M532.38 131.38L534.05 129.71L535.71 128.87L537.37 128.87L539.87 129.71L541.54 131.38L542.37 133.9L542.37 135.57L541.54 138.09L539.87 139.76L537.37 140.6L535.71 140.6L534.05 139.76L532.38 138.09M537.37 128.87L539.04 129.71L540.7 131.38L541.54 133.9L541.54 135.57L540.7 138.09L539.04 139.76L537.37 140.6M529.05 128.87L532.38 128.87M529.05 146.47L534.88 146.47M549.02 123L548.19 123.84L549.02 124.68L549.86 123.84L549.02 123M549.02 128.87L549.02 140.6M549.86 128.87L549.86 140.6M546.53 128.87L549.86 128.87M546.53 140.6L552.35 140.6M566.5 123L566.5 140.6M567.33 123L567.33 140.6M566.5 131.38L564.83 129.71L563.17 128.87L561.51 128.87L559.01 129.71L557.35 131.38L556.51 133.9L556.51 135.57L557.35 138.09L559.01 139.76L561.51 140.6L563.17 140.6L564.83 139.76L566.5 138.09M561.51 128.87L559.84 129.71L558.18 131.38L557.35 133.9L557.35 135.57L558.18 138.09L559.84 139.76L561.51 140.6M564 123L567.33 123M566.5 140.6L569.83 140.6M598.12 125.52L598.95 123L598.95 128.03L598.12 125.52L596.46 123.84L593.96 123L591.46 123L588.97 123.84L587.3 125.52L587.3 127.19L588.13 128.87L588.97 129.71L590.63 130.54L595.62 132.22L597.29 133.06L598.95 134.73M587.3 127.19L588.97 128.87L590.63 129.71L595.62 131.38L597.29 132.22L598.12 133.06L598.95 134.73L598.95 138.09L597.29 139.76L594.79 140.6L592.3 140.6L589.8 139.76L588.13 138.09L587.3 135.57L587.3 140.6L588.13 138.09M605.61 123L605.61 140.6M606.44 123L606.44 140.6M611.43 128.03L611.43 134.73M603.11 123L616.43 123L616.43 128.03L615.6 123M606.44 131.38L611.43 131.38M603.11 140.6L608.94 140.6M622.25 140.6L621.42 139.76L622.25 138.92L623.08 139.76L623.08 141.44L622.25 143.11L621.42 143.95M648.05 123.84L647.22 124.68L648.05 125.52L648.88 124.68L648.88 123.84L648.05 123L646.38 123L644.72 123.84L643.89 125.52L643.89 140.6M646.38 123L645.55 123.84L644.72 125.52L644.72 140.6M641.39 128.87L648.05 128.87M641.39 140.6L647.22 140.6M654.71 123L653.87 123.84L654.71 124.68L655.54 123.84L654.71 123M654.71 128.87L654.71 140.6M655.54 128.87L655.54 140.6M652.21 128.87L655.54 128.87M652.21 140.6L658.03 140.6M663.03 128.87L672.18 140.6M663.86 128.87L673.01 140.6M673.01 128.87L663.03 140.6M661.36 128.87L666.36 128.87M669.68 128.87L674.68 128.87M661.36 140.6L666.36 140.6M669.68 140.6L674.68 140.6M679.67 133.9L689.66 133.9L689.66 132.22L688.82 130.54L687.99 129.71L686.33 128.87L683.83 128.87L681.33 129.71L679.67 131.38L678.84 133.9L678.84 135.57L679.67 138.09L681.33 139.76L683.83 140.6L685.49 140.6L687.99 139.76L689.66 138.09M688.82 133.9L688.82 131.38L687.99 129.71M683.83 128.87L682.17 129.71L680.5 131.38L679.67 133.9L679.67 135.57L680.5 138.09L682.17 139.76L683.83 140.6M704.63 123L704.63 140.6M705.47 123L705.47 140.6M704.63 131.38L702.97 129.71L701.3 128.87L699.64 128.87L697.14 129.71L695.48 131.38L694.65 133.9L694.65 135.57L695.48 138.09L697.14 139.76L699.64 140.6L701.3 140.6L702.97 139.76L704.63 138.09M699.64 128.87L697.98 129.71L696.31 131.38L695.48 133.9L695.48 135.57L696.31 138.09L697.98 139.76L699.64 140.6M702.14 123L705.47 123M704.63 140.6L707.96 140.6M728.85 128.87L727.18 140.6M729.68 128.87L728.85 133.9L728.02 138.09L727.18 140.6M738 128.87L737.17 132.22L735.51 135.57M738.83 128.87L738 131.38L737.17 133.06L735.51 135.57L733.84 137.25L731.35 138.92L729.68 139.76L727.18 140.6M726.35 128.87L729.68 128.87" fill="none" stroke="#0000ff" stroke-width="1.3" stroke-linecap="round" stroke-linejoin="round"/>
<path d="M500.76 88.1L500.76 105.7M501.59 88.1L501.59 105.7M501.59 96.48L503.26 94.81L505.75 93.97L507.42 93.97L509.91 94.81L510.75 96.48L510.75 105.7M507.42 93.97L509.08 94.81L509.91 96.48L509.91 105.7M498.26 88.1L501.59 88.1M498.26 105.7L504.09 105.7M507.42 105.7L513.24 105.7M518.24 93.97L523.23 105.7M519.07 93.97L523.23 104.02M528.22 93.97L523.23 105.7L521.56 109.05L519.9 110.73L518.24 111.57L517.4 111.57L516.57 110.73L517.4 109.89L518.24 110.73M516.57 93.97L521.56 93.97M524.89 93.97L529.89 93.97M534.88 88.1L534.88 105.7M535.71 88.1L535.71 105.7M535.71 96.48L537.37 94.81L539.04 93.97L540.7 93.97L543.2 94.81L544.86 96.48L545.7 99L545.7 100.67L544.86 103.19L543.2 104.86L540.7 105.7L539.04 105.7L537.37 104.86L535.71 103.19M540.7 93.97L542.37 94.81L544.03 96.48L544.86 99L544.86 100.67L544.03 103.19L542.37 104.86L540.7 105.7M532.38 88.1L535.71 88.1M552.35 93.97L552.35 105.7M553.19 93.97L553.19 105.7M553.19 99L554.02 96.48L555.68 94.81L557.35 93.97L559.84 93.97L560.67 94.81L560.67 95.64L559.84 96.48L559.01 95.64L559.84 94.81M549.86 93.97L553.19 93.97M549.86 105.7L555.68 105.7M566.5 88.1L565.67 88.94L566.5 89.78L567.33 88.94L566.5 88.1M566.5 93.97L566.5 105.7M567.33 93.97L567.33 105.7M564 93.97L567.33 93.97M564 105.7L569.83 105.7M583.97 88.1L583.97 105.7M584.81 88.1L584.81 105.7M583.97 96.48L582.31 94.81L580.65 93.97L578.98 93.97L576.48 94.81L574.82 96.48L573.99 99L573.99 100.67L574.82 103.19L576.48 104.86L578.98 105.7L580.65 105.7L582.31 104.86L583.97 103.19M578.98 93.97L577.32 94.81L575.65 96.48L574.82 99L574.82 100.67L575.65 103.19L577.32 104.86L578.98 105.7M581.48 88.1L584.81 88.1M583.97 105.7L587.3 105.7M615.6 90.62L616.43 88.1L616.43 93.13L615.6 90.62L613.93 88.94L611.43 88.1L608.94 88.1L606.44 88.94L604.78 90.62L604.78 92.29L605.61 93.97L606.44 94.81L608.11 95.64L613.1 97.32L614.76 98.16L616.43 99.83M604.78 92.29L606.44 93.97L608.11 94.81L613.1 96.48L614.76 97.32L615.6 98.16L616.43 99.83L616.43 103.19L614.76 104.86L612.27 105.7L609.77 105.7L607.27 104.86L605.61 103.19L604.78 100.67L604.78 105.7L605.61 103.19M623.08 88.1L623.08 105.7M623.92 88.1L623.92 105.7M628.91 93.13L628.91 99.83M620.59 88.1L633.9 88.1L633.9 93.13L633.07 88.1M623.92 96.48L628.91 96.48M620.59 105.7L626.41 105.7M639.73 105.7L638.89 104.86L639.73 104.02L640.56 104.86L640.56 106.54L639.73 108.21L638.89 109.05M665.52 88.94L664.69 89.78L665.52 90.62L666.36 89.78L666.36 88.94L665.52 88.1L663.86 88.1L662.19 88.94L661.36 90.62L661.36 105.7M663.86 88.1L663.03 88.94L662.19 90.62L662.19 105.7M658.87 93.97L665.52 93.97M658.87 105.7L664.69 105.7M672.18 88.1L671.35 88.94L672.18 89.78L673.01 88.94L672.18 88.1M672.18 93.97L672.18 105.7M673.01 93.97L673.01 105.7M669.68 93.97L673.01 93.97M669.68 105.7L675.51 105.7M680.5 93.97L689.66 105.7M681.33 93.97L690.49 105.7M690.49 93.97L680.5 105.7M678.84 93.97L683.83 93.97M687.16 93.97L692.15 93.97M678.84 105.7L683.83 105.7M687.16 105.7L692.15 105.7M697.14 99L707.13 99L707.13 97.32L706.3 95.64L705.47 94.81L703.8 93.97L701.3 93.97L698.81 94.81L697.14 96.48L696.31 99L696.31 100.67L697.14 103.19L698.81 104.86L701.3 105.7L702.97 105.7L705.47 104.86L707.13 103.19M706.3 99L706.3 96.48L705.47 94.81M701.3 93.97L699.64 94.81L697.98 96.48L697.14 99L697.14 100.67L697.98 103.19L699.64 104.86L701.3 105.7M722.11 88.1L722.11 105.7M722.94 88.1L722.94 105.7M722.11 96.48L720.44 94.81L718.78 93.97L717.12 93.97L714.62 94.81L712.95 96.48L712.12 99L712.12 100.67L712.95 103.19L714.62 104.86L717.12 105.7L718.78 105.7L720.44 104.86L722.11 103.19M717.12 93.97L715.45 94.81L713.79 96.48L712.95 99L712.95 100.67L713.79 103.19L715.45 104.86L717.12 105.7M719.61 88.1L722.94 88.1M722.11 105.7L725.44 105.7M746.32 93.97L744.66 105.7M747.16 93.97L746.32 99L745.49 103.19L744.66 105.7M755.48 93.97L754.64 97.32L752.98 100.67M756.31 93.97L755.48 96.48L754.64 98.16L752.98 100.67L751.32 102.35L748.82 104.02L747.16 104.86L744.66 105.7M743.83 93.97L747.16 93.97" fill="none" stroke="#ff0000" stroke-width="1.3" stroke-linecap="round" stroke-linejoin="round"/>
<g fill="none" stroke-width="1.15">
<path d="M452 105.7H496.6" stroke="#ff0000"/>
<path d="M451.87 140.76H496.7" stroke="#0000ff" stroke-dasharray="11.85 7.65"/>
<path d="M702.4 176.1V263.6M702.4 299.3V351.6" stroke="#0000ff"/>
<path d="M601.3 449.3L588.1 457L601.3 464.5M598.9 457H643.5" stroke="#0000ff"/>
</g>
</svg>
</body></html>
